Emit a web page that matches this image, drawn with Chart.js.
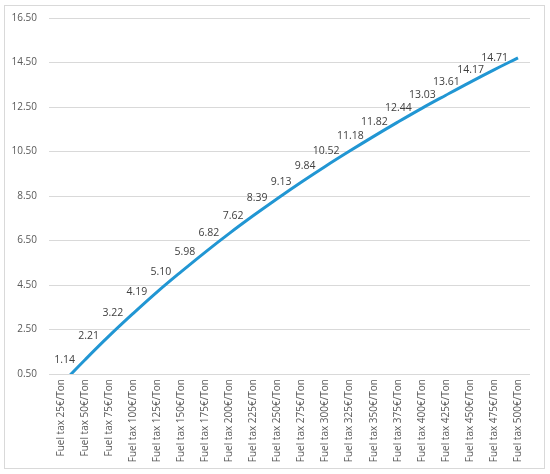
<!DOCTYPE html>
<html>
<head>
<meta charset="utf-8">
<script src="https://cdn.jsdelivr.net/npm/chart.js@4/dist/chart.umd.min.js"></script>
<style>
  html, body { margin: 0; padding: 0; background: #fff; }
  #wrap { position: relative; width: 550px; height: 474px; }
  #frame { position: absolute; left: 4px; top: 5px; width: 539px; height: 462px; border: 1px solid #d9d9d9; }
  canvas { position: absolute; left: 0; top: 0; }
</style>
</head>
<body>
<div id="wrap">
  <div id="frame"></div>
  <canvas id="chart" width="550" height="474"></canvas>
</div>
<script>
// fuel tax levels (x axis)
const categories = ["Fuel tax 25€/Ton", "Fuel tax 50€/Ton", "Fuel tax 75€/Ton", "Fuel tax 100€/Ton",
  "Fuel tax 125€/Ton", "Fuel tax 150€/Ton", "Fuel tax 175€/Ton", "Fuel tax 200€/Ton",
  "Fuel tax 225€/Ton", "Fuel tax 250€/Ton", "Fuel tax 275€/Ton", "Fuel tax 300€/Ton",
  "Fuel tax 325€/Ton", "Fuel tax 350€/Ton", "Fuel tax 375€/Ton", "Fuel tax 400€/Ton",
  "Fuel tax 425€/Ton", "Fuel tax 450€/Ton", "Fuel tax 475€/Ton", "Fuel tax 500€/Ton"];

// first value sits below the axis minimum, so it has no label
const values = [0.03, 1.14, 2.21, 3.22, 4.19, 5.10, 5.98, 6.82, 7.62, 8.39,
  9.13, 9.84, 10.52, 11.18, 11.82, 12.44, 13.03, 13.61, 14.17, 14.71];

const yMin = 0.5;
const yMax = 16.5;
const yStep = 2;

const txtColor = "#595959";
const font = "'Open Sans', sans-serif";

const valueLabels = {
  id: "valueLabels",
  afterDatasetsDraw(chart) {
    const ctx = chart.ctx;
    const meta = chart.getDatasetMeta(0);
    ctx.save();
    ctx.font = "10.5px " + font;
    ctx.fillStyle = "#404040";
    ctx.textAlign = "right";
    ctx.textBaseline = "middle";
    meta.data.forEach((pt, i) => {
      if (values[i] < yMin) return;
      ctx.fillText(values[i].toFixed(2), pt.x - 10, pt.y);
    });
    ctx.restore();
  }
};

new Chart(document.getElementById("chart"), {
  type: "line",
  data: {
    labels: categories,
    datasets: [{
      data: values,
      borderColor: "#2196d3",
      borderWidth: 3,
      pointRadius: 0,
      tension: 0.4,
      fill: false
    }]
  },
  options: {
    responsive: false,
    animation: false,
    layout: { padding: { left: 0, right: 20, top: 18, bottom: 0 } },
    plugins: { legend: { display: false }, tooltip: { enabled: false } },
    scales: {
      x: {
        offset: true,
        grid: { display: false, drawTicks: false },
        border: { display: false },
        ticks: {
          autoSkip: false, minRotation: 90, maxRotation: 90, padding: 5,
          color: txtColor, font: { family: font, size: 10 }
        },
        afterFit(scale) { scale.height = 100; }
      },
      y: {
        min: yMin,
        max: yMax,
        grid: { color: "#d9d9d9", drawTicks: false },
        border: { display: false },
        ticks: {
          stepSize: yStep, padding: 12,
          color: txtColor, font: { family: font, size: 10 },
          callback: v => v.toFixed(2)
        },
        afterFit(scale) { scale.width = 49; }
      }
    }
  },
  plugins: [valueLabels]
});
</script>
</body>
</html>
